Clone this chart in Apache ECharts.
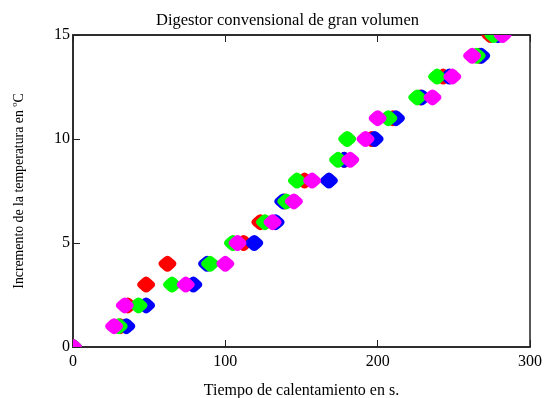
<!DOCTYPE html>
<html>
<head>
<meta charset="utf-8">
<script src="https://cdn.jsdelivr.net/npm/echarts@6/dist/echarts.min.js"></script>
<style>
  html, body { margin: 0; padding: 0; background: #fff; }
  #chart { width: 550px; height: 398px; }
</style>
</head>
<body>
<div id="chart"></div>
<script>
// temperatura (escalones de 1 grado)
var tempLevels = [0, 1, 2, 3, 4, 5, 6, 7, 8, 9, 10, 11, 12, 13, 14, 15]
// tiempos (s)
var tRed     = [0, 31, 36, 48, 62, 112, 123, 139, 152, 178, 196, 210, 228, 243, 267, 274]
var tBlue    = [0, 35, 48, 79, 88, 119, 133, 138, 168, 178, 198, 212, 229, 247, 268, 279]
var tGreen   = [0, 30, 43, 65, 90, 105, 126, 140, 147, 174, 180, 207, 226, 239, 265, 276]
var tMagenta = [0, 27, 34, 74, 100, 108, 131, 145, 157, 182, 192, 200, 236, 249, 262, 282]
var xTicks = [0, 100, 200, 300]
var yTicks = [0, 5, 10, 15]

// rombo con esquinas redondeadas
var rombo = 'M6,2 Q10,-2 14,2 L18,6 Q22,10 18,14 L14,18 Q10,22 6,18 L2,14 Q-2,10 2,6 Z'

function pares(ts) {
  return ts.map(function (t, i) { return [t, tempLevels[i]] })
}

// serie custom para que los simbolos se recorten en el borde del grafico
function serie(nombre, color, ts) {
  return {
    name: nombre,
    type: 'custom',
    clip: true,
    encode: { x: 0, y: 1 },
    data: pares(ts),
    renderItem: function (params, api) {
      var p = api.coord([api.value(0), api.value(1)])
      return {
        type: 'path',
        shape: { pathData: rombo, x: p[0] - 9, y: p[1] - 8, width: 18, height: 16, layout: 'cover' },
        style: { fill: color }
      }
    }
  }
}

var fuente = 'Liberation Serif'
var ejeX = {
  type: 'value',
  min: xTicks[0],
  max: xTicks[xTicks.length - 1],
  interval: 100,
  axisLine: { show: true, lineStyle: { color: '#222', width: 1.5 } },
  axisTick: { show: true, inside: true, length: 7, lineStyle: { color: '#222' } },
  splitLine: { show: false }
}

var chart = echarts.init(document.getElementById('chart'))
chart.setOption({
  animation: false,
  textStyle: { fontFamily: fuente },
  title: {
    text: 'Digestor convensional de gran volumen',
    left: 151,
    top: 7,
    textStyle: { fontFamily: fuente, fontSize: 16.5, fontWeight: 'normal', color: '#000' }
  },
  grid: {
    left: 73, right: 20, top: 35, bottom: 51,
    outerBoundsMode: 'none',
    containLabel: false,
    show: true, borderColor: '#222', borderWidth: 1.5
  },
  xAxis: [
    Object.assign({}, ejeX, {
      name: 'Tiempo de calentamiento en s.',
      nameLocation: 'middle',
      nameGap: 36,
      nameTextStyle: { fontFamily: fuente, fontSize: 16, color: '#000' },
      axisLabel: { fontFamily: fuente, fontSize: 16, color: '#000', margin: 7 }
    }),
    Object.assign({}, ejeX, { position: 'top', axisLabel: { show: false } })
  ],
  yAxis: {
    type: 'value',
    min: yTicks[0],
    max: yTicks[yTicks.length - 1],
    interval: 5,
    name: 'Incremento de la temperatura en \u00baC',
    nameLocation: 'middle',
    nameGap: 47,
    nameTextStyle: { fontFamily: fuente, fontSize: 13.8, color: '#000' },
    axisLine: { show: true, lineStyle: { color: '#222', width: 1.5 } },
    axisTick: { show: true, inside: true, length: 7, lineStyle: { color: '#222' } },
    axisLabel: { fontFamily: fuente, fontSize: 16, color: '#000', margin: 3, padding: [7, 0, 0, 0] },
    splitLine: { show: false }
  },
  series: [
    serie('rojo', '#ff0000', tRed),
    serie('azul', '#0000ff', tBlue),
    serie('verde', '#00ff00', tGreen),
    serie('magenta', '#ff00ff', tMagenta)
  ]
})
</script>
</body>
</html>
